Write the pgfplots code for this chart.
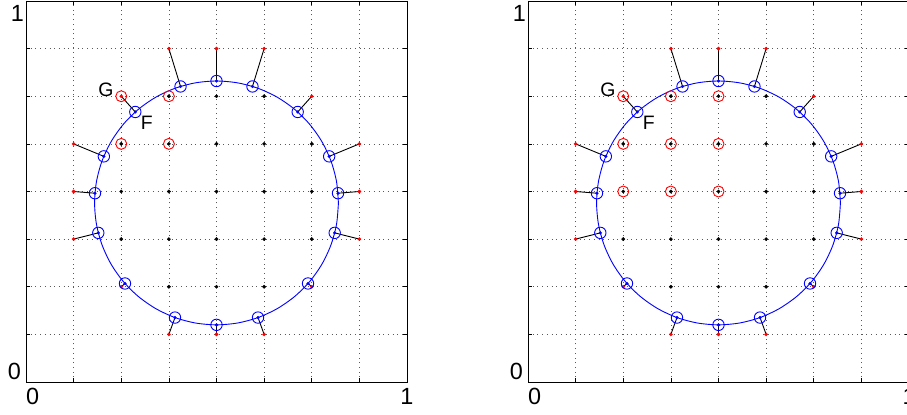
\documentclass[border=0pt]{standalone}
\usepackage{pgfplots}
\pgfplotsset{compat=1.18}
\usepackage{pgfplotstable}
\usepackage{fontspec}
\setmainfont{Liberation Sans}

% lattice nodes strictly inside the boundary circle
\pgfplotstableread{
x y
0.375 0.25
0.5 0.25
0.625 0.25
0.25 0.375
0.375 0.375
0.5 0.375
0.625 0.375
0.75 0.375
0.25 0.5
0.375 0.5
0.5 0.5
0.625 0.5
0.75 0.5
0.25 0.625
0.375 0.625
0.5 0.625
0.625 0.625
0.75 0.625
0.375 0.75
0.5 0.75
0.625 0.75
}\innerpts

% ghost nodes just outside the boundary
\pgfplotstableread{
x y
0.375 0.125
0.5 0.125
0.625 0.125
0.25 0.25
0.75 0.25
0.125 0.375
0.875 0.375
0.125 0.5
0.875 0.5
0.125 0.625
0.875 0.625
0.25 0.75
0.75 0.75
0.375 0.875
0.5 0.875
0.625 0.875
}\ghostpts

% boundary points (closest points on the circle)
\pgfplotstableread{
x y
0.3910 0.1691
0.5 0.15
0.6090 0.1691
0.2598 0.2586
0.7402 0.2586
0.1898 0.3914
0.8102 0.3914
0.1810 0.4955
0.8190 0.4955
0.2043 0.5922
0.7957 0.5922
0.2869 0.7087
0.7131 0.7087
0.4056 0.7757
0.5 0.79
0.5944 0.7757
}\bndpts

% ghost node -> boundary point segments
\pgfplotstableread{
x y
0.375 0.125
0.3910 0.1691
nan nan
0.5 0.125
0.5 0.15
nan nan
0.625 0.125
0.6090 0.1691
nan nan
0.25 0.25
0.2598 0.2586
nan nan
0.75 0.25
0.7402 0.2586
nan nan
0.125 0.375
0.1898 0.3914
nan nan
0.875 0.375
0.8102 0.3914
nan nan
0.125 0.5
0.1810 0.4955
nan nan
0.875 0.5
0.8190 0.4955
nan nan
0.125 0.625
0.2043 0.5922
nan nan
0.875 0.625
0.7957 0.5922
nan nan
0.25 0.75
0.2869 0.7087
nan nan
0.75 0.75
0.7131 0.7087
nan nan
0.375 0.875
0.4056 0.7757
nan nan
0.5 0.875
0.5 0.79
nan nan
0.625 0.875
0.5944 0.7757
}\segments

% boundary circle, centre (0.5,0.47), radius 0.32, every 10 degrees
\pgfplotstableread{
x y
0.82 0.47
0.8151 0.5256
0.8007 0.5794
0.7771 0.63
0.7451 0.6757
0.7057 0.7151
0.66 0.7471
0.6094 0.7707
0.5556 0.7851
0.5 0.79
0.4444 0.7851
0.3906 0.7707
0.34 0.7471
0.2943 0.7151
0.2549 0.6757
0.2229 0.63
0.1993 0.5794
0.1849 0.5256
0.18 0.47
0.1849 0.4144
0.1993 0.3606
0.2229 0.31
0.2549 0.2643
0.2943 0.2249
0.34 0.1929
0.3906 0.1693
0.4444 0.1549
0.5 0.15
0.5556 0.1549
0.6094 0.1693
0.66 0.1929
0.7057 0.2249
0.7451 0.2643
0.7771 0.31
0.8007 0.3606
0.8151 0.4144
0.82 0.47
}\ringpts

% highlighted nodes, left panel
\pgfplotstableread{
x y
0.25 0.75
0.375 0.75
0.25 0.625
0.375 0.625
}\markA

% highlighted nodes, right panel
\pgfplotstableread{
x y
0.25 0.75
0.375 0.75
0.5 0.75
0.25 0.625
0.375 0.625
0.5 0.625
0.25 0.5
0.375 0.5
0.5 0.5
}\markB

\newcommand{\labfont}{\fontsize{23.5}{28}\selectfont}
\newcommand{\ptfont}{\fontsize{19.5}{23}\selectfont}

\pgfplotsset{
  lattice/.style={
    scale only axis, width=381bp, height=381bp,
    anchor=south west,
    xmin=0, xmax=1, ymin=0, ymax=1,
    xtick={0,0.125,0.25,0.375,0.5,0.625,0.75,0.875,1},
    ytick={0,0.125,0.25,0.375,0.5,0.625,0.75,0.875,1},
    xticklabels={}, yticklabels={},
    grid=major,
    major grid style={black!65, line width=0.6bp, dash pattern=on 0.9bp off 3.8bp},
    tick align=inside, major tick length=4bp,
    major tick style={black, line width=0.7bp},
    axis line style={black, line width=0.9bp},
    clip=false,
  },
}

\newcommand{\commonlayers}{%
  \addplot[black, line width=0.9bp, unbounded coords=jump] table {\segments};
  \addplot[blue, line width=0.9bp, smooth] table {\ringpts};
  \addplot[only marks, mark=*, mark size=1.7bp, black] table {\innerpts};
  \addplot[only marks, mark=*, mark size=1.7bp, red] table {\ghostpts};
  \addplot[only marks, mark=o, mark size=5.7bp, blue, mark options={line width=0.9bp}] table {\bndpts};
  \addplot[only marks, mark=*, mark size=1.4bp, blue] table {\bndpts};
  \node[font=\ptfont, inner sep=0pt] at (axis cs:0.21,0.766) {G};
  \node[font=\ptfont, inner sep=0pt] at (axis cs:0.317,0.68) {F};
  \node[font=\labfont, inner sep=0pt, anchor=north west, yshift=-6bp] at (rel axis cs:0,0) {0};
  \node[font=\labfont, inner sep=0pt, anchor=north, yshift=-6bp] at (rel axis cs:1,0) {1};
  \node[font=\labfont, inner sep=0pt, anchor=south east, xshift=-5bp, yshift=2bp] at (rel axis cs:0,0) {0};
  \node[font=\labfont, inner sep=0pt, anchor=north east, xshift=-2bp, yshift=-4bp] at (rel axis cs:0,1) {1};
}

\begin{document}
\begin{tikzpicture}
\useasboundingbox (0,0) rectangle (907bp,415bp);
\begin{scope}
\clip (0,0) rectangle (907bp,415bp);
\begin{axis}[lattice, at={(26bp,33bp)}]
  \commonlayers
  \addplot[only marks, mark=o, mark size=5.5bp, red, mark options={line width=0.9bp}] table {\markA};
\end{axis}
\begin{axis}[lattice, at={(528bp,33bp)}]
  \commonlayers
  \addplot[only marks, mark=o, mark size=5.5bp, red, mark options={line width=0.9bp}] table {\markB};
\end{axis}
\end{scope}
\end{tikzpicture}
\end{document}
